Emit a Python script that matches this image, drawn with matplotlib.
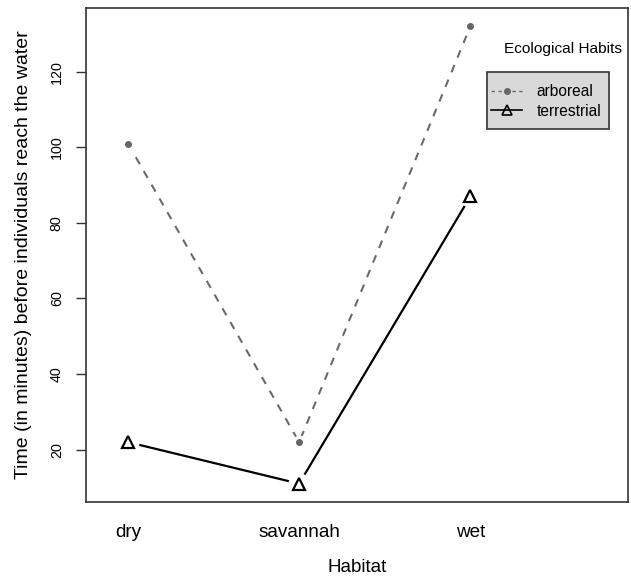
import matplotlib.pyplot as plt
from matplotlib.lines import Line2D
from matplotlib.patches import Rectangle

habitats = ["dry", "savannah", "wet"]
arboreal = [101, 22, 132]
terrestrial = [22, 11, 87]

plt.rcParams["font.family"] = ["Liberation Sans", "DejaVu Sans"]

fig = plt.figure(figsize=(6.31, 5.76), dpi=100)
ax = fig.add_axes([0.1363, 0.1285, 0.8587, 0.8575])

x = list(range(1, len(habitats) + 1))

# lines (R type="b": small gap around the points)
ax.plot(x, arboreal, color="#6a6a6a", linestyle=(0, (3.8, 3.8)), linewidth=1.5, zorder=2)
ax.plot(x, terrestrial, color="black", linestyle="-", linewidth=1.6, zorder=2)
ax.plot(x, arboreal, linestyle="none", marker="o", markersize=9,
        markerfacecolor="white", markeredgecolor="white", zorder=3)
ax.plot(x, terrestrial, linestyle="none", marker="o", markersize=15,
        markerfacecolor="white", markeredgecolor="white", zorder=3)
ax.plot(x, arboreal, linestyle="none", marker="o", markersize=4,
        markerfacecolor="#666666", markeredgecolor="#666666", zorder=4)
ax.plot(x, terrestrial, linestyle="none", marker="^", markersize=8,
        markerfacecolor="none", markeredgecolor="black", markeredgewidth=1.6, zorder=4)

ax.set_xlim(0.755, 3.92)
ax.set_ylim(6.16, 136.84)

ax.set_xticks(x)
ax.set_xticklabels(habitats, fontsize=13.6)
ax.tick_params(axis="x", length=0, pad=16)
ax.set_yticks([20, 40, 60, 80, 100, 120])
ax.tick_params(axis="y", labelsize=10.3, length=7, width=1, pad=9, color="#333333")
for lab in ax.get_yticklabels():
    lab.set_rotation(90)
    lab.set_va("center")

ax.set_xlabel("Habitat", fontsize=13.6, labelpad=13)
ax.set_ylabel("Time (in minutes) before individuals reach the water", fontsize=14, labelpad=13)

for s in ax.spines.values():
    s.set_linewidth(1.2)
    s.set_color("#333333")

# legend box + entries
ax.add_patch(Rectangle((0.740, 0.755), 0.2252, 0.1154, transform=ax.transAxes,
                       facecolor="#d9d9d9", edgecolor="#333333", linewidth=1.2,
                       clip_on=False, zorder=5))
handles = [
    Line2D([], [], color="#6a6a6a", linestyle=(0, (2.5, 2.5)), linewidth=1.0,
           marker="o", markersize=4, markerfacecolor="#666666", markeredgecolor="#666666"),
    Line2D([], [], color="black", linewidth=1.2, marker="^", markersize=7,
           markerfacecolor="none", markeredgecolor="black", markeredgewidth=1.2),
]
leg = ax.legend(handles, ["arboreal", "terrestrial"], loc="center left",
                bbox_to_anchor=(0.739, 0.8107), fontsize=11.2, frameon=False,
                handlelength=2.0, handletextpad=0.92,
                labelspacing=0.28, borderpad=0.3, borderaxespad=0)
leg.set_zorder(6)

ax.text(0.8795, 0.917, "Ecological Habits", transform=ax.transAxes, fontsize=11.1,
        ha="center", va="center")

fig.savefig("out.png", dpi=100)
